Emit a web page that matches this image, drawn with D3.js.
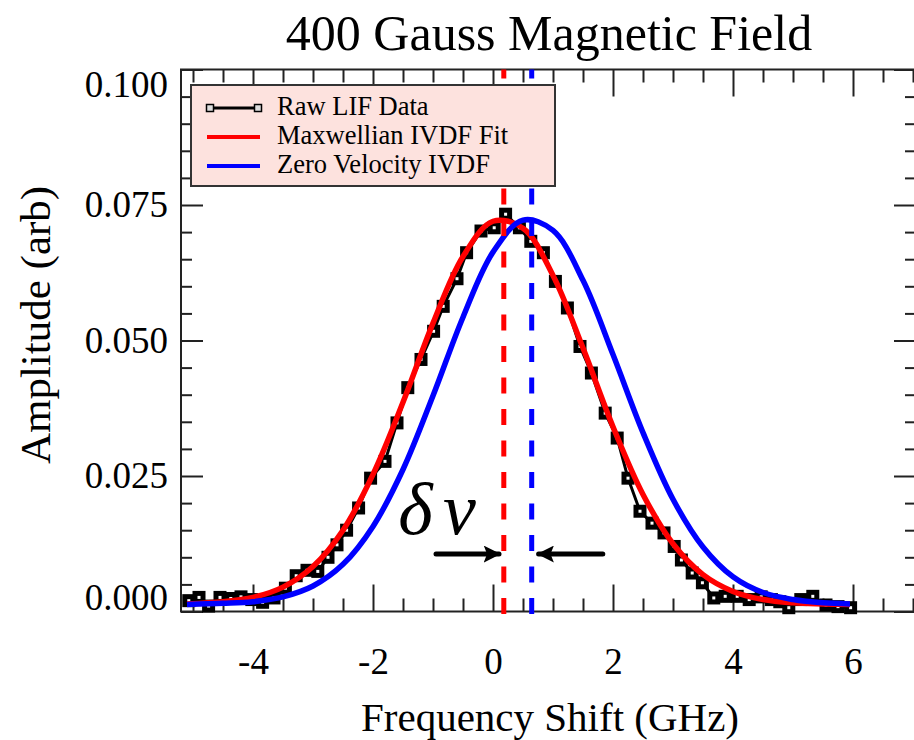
<!DOCTYPE html>
<html>
<head>
<meta charset="utf-8">
<script src="https://cdn.jsdelivr.net/npm/d3@7"></script>
<style>
  body { margin: 0; background: #fff; }
  text { font-family: "Liberation Serif", "Times New Roman", serif; fill: #000; }
</style>
</head>
<body>
<div id="chart"></div>
<script>
// raw LIF measurement (GHz, amplitude)
const rawX = [-5.07, -4.90, -4.74, -4.55, -4.37, -4.20, -4.02, -3.84, -3.65, -3.46,
  -3.28, -3.10, -2.92, -2.75, -2.60, -2.44, -2.24, -2.04, -1.80, -1.60,
  -1.42, -1.20, -0.99, -0.83, -0.60, -0.44, -0.20, 0.02, 0.21, 0.44,
  0.63, 0.84, 1.04, 1.24, 1.45, 1.64, 1.87, 2.07, 2.25, 2.45,
  2.65, 2.85, 3.02, 3.14, 3.32, 3.49, 3.68, 3.87, 4.07, 4.27,
  4.47, 4.64, 4.78, 4.93, 5.13, 5.33, 5.55, 5.75, 5.96];
const rawY = [0.0020, 0.0026, 0.0010, 0.0026, 0.0024, 0.0027, 0.0022, 0.0017, 0.0025, 0.0043,
  0.0066, 0.0076, 0.0074, 0.0100, 0.0123, 0.0150, 0.0191, 0.0246, 0.0277, 0.0348,
  0.0413, 0.0465, 0.0517, 0.0563, 0.0614, 0.0662, 0.0702, 0.0708, 0.0733, 0.0708,
  0.0683, 0.0662, 0.0609, 0.0560, 0.0489, 0.0440, 0.0366, 0.0320, 0.0246, 0.0185,
  0.0163, 0.0145, 0.0120, 0.0095, 0.0071, 0.0053, 0.0025, 0.0028, 0.0028, 0.0022,
  0.0027, 0.0022, 0.0018, 0.0007, 0.0022, 0.0028, 0.0012, 0.0009, 0.0007];

// fitted curves
const fitX = [-5.1, -4.5, -4, -3.5, -3, -2.5, -2, -1.5, -1, -0.5, 0, 0.5, 1,
  1.5, 2, 2.5, 3, 3.5, 4, 4.5, 5, 5.5, 5.95];
const maxwellY = [0.0014, 0.0018, 0.0026, 0.0045, 0.0083, 0.0150, 0.0253, 0.0386, 0.0532, 0.0655, 0.0720, 0.0707, 0.0620,
  0.0486, 0.0341, 0.0216, 0.0125, 0.0068, 0.0037, 0.0022, 0.0016, 0.0014, 0.0013];
const zeroVelY = [0.0013, 0.0015, 0.0018, 0.0027, 0.0047, 0.0087, 0.0157, 0.0262, 0.0398, 0.0543, 0.0663, 0.0722, 0.0703,
  0.0611, 0.0474, 0.0330, 0.0207, 0.0119, 0.0064, 0.0035, 0.0022, 0.0016, 0.0014];

// centre lines of the two distributions
const maxwellCenter = 0.18;
const zeroVelCenter = 0.645;

const xTicks = [-4, -2, 0, 2, 4, 6];
const xTickLabels = ["-4", "-2", "0", "2", "4", "6"];
const yTicks = [0, 0.025, 0.05, 0.075, 0.1];
const yTickLabels = ["0.000", "0.025", "0.050", "0.075", "0.100"];
const legendLabels = ["Raw LIF Data", "Maxwellian IVDF Fit", "Zero Velocity IVDF"];

let width = 914, height = 740;

const svg = d3.select("#chart")
  .append("svg")
  .attr("width", width)
  .attr("height", height);

const x = d3.scaleLinear().domain([-5.2, 7.05]).range([181, 916]);
const y = d3.scaleLinear().domain([0, 0.1]).range([611.5, 69.5]);

const xMinor = d3.range(-5, 7.01, 0.5).filter(v => v % 2 !== 0);
const yMinor = d3.range(0, 0.1001, 0.005).filter(v => Math.abs(v / 0.025 - Math.round(v / 0.025)) > 1e-6);

// ticks on all four sides, pointing inward
function tickAxis(axis) {
  return g => g.call(axis).call(s => s.select(".domain").remove())
    .call(s => s.selectAll("line").attr("stroke", "#222").attr("stroke-width", 2));
}
const noLab = () => "";

svg.append("g").attr("transform", `translate(0,${y(0)})`)
  .call(tickAxis(d3.axisBottom(x).tickValues(xMinor).tickSize(-13).tickFormat(noLab)));
svg.append("g").attr("transform", `translate(0,${y(0.1)})`)
  .call(tickAxis(d3.axisTop(x).tickValues(xMinor).tickSize(-13).tickFormat(noLab)));
svg.append("g").attr("transform", `translate(0,${y(0.1)})`)
  .call(tickAxis(d3.axisTop(x).tickValues(xTicks).tickSize(-27).tickFormat(noLab)));
const xAxis = svg.append("g").attr("transform", `translate(0,${y(0)})`)
  .call(tickAxis(d3.axisBottom(x).tickValues(xTicks).tickSize(-27).tickPadding(36)
    .tickFormat((d, i) => xTickLabels[i])));
xAxis.selectAll("text").attr("font-size", 37).attr("font-family", "Liberation Serif");

svg.append("g").attr("transform", `translate(${x.range()[0]},0)`)
  .call(tickAxis(d3.axisLeft(y).tickValues(yMinor).tickSize(-11).tickFormat(noLab)));
svg.append("g").attr("transform", `translate(${x.range()[1]},0)`)
  .call(tickAxis(d3.axisRight(y).tickValues(yMinor).tickSize(-11).tickFormat(noLab)));
svg.append("g").attr("transform", `translate(${x.range()[1]},0)`)
  .call(tickAxis(d3.axisRight(y).tickValues(yTicks).tickSize(-22).tickFormat(noLab)));
const yAxis = svg.append("g").attr("transform", `translate(${x.range()[0]},0)`)
  .call(tickAxis(d3.axisLeft(y).tickValues(yTicks).tickSize(-22).tickPadding(13)
    .tickFormat((d, i) => yTickLabels[i])));
yAxis.selectAll("text").attr("font-size", 37).attr("font-family", "Liberation Serif")
  .attr("dy", (d, i) => i === 0 ? "-0.05em" : (i === yTicks.length - 1 ? "0.72em" : "0.32em"));

// frame
svg.append("rect")
  .attr("x", x.range()[0]).attr("y", y(0.1))
  .attr("width", x.range()[1] - x.range()[0]).attr("height", y(0) - y(0.1))
  .attr("fill", "none").attr("stroke", "#222").attr("stroke-width", 2);

const plot = svg.append("g");

// raw data
const raw = rawX.map((v, i) => ({ x: v, y: rawY[i] }));
plot.append("path")
  .datum(raw)
  .attr("d", d3.line().x(d => x(d.x)).y(d => y(d.y)))
  .attr("fill", "none").attr("stroke", "#000").attr("stroke-width", 3);
plot.selectAll("rect.pt")
  .data(raw)
  .enter()
  .append("rect")
  .attr("class", "pt")
  .attr("x", d => x(d.x) - 4).attr("y", d => y(d.y) - 4)
  .attr("width", 8).attr("height", 8)
  .attr("fill", "#fff").attr("stroke", "#000").attr("stroke-width", 5);

// fits
const fitLine = d3.line().curve(d3.curveCatmullRom.alpha(0.5));
plot.append("path")
  .datum(fitX.map((v, i) => [x(v), y(maxwellY[i])]))
  .attr("d", fitLine)
  .attr("fill", "none").attr("stroke", "#ff0000").attr("stroke-width", 5.5);
plot.append("path")
  .datum(fitX.map((v, i) => [x(v), y(zeroVelY[i])]))
  .attr("d", fitLine)
  .attr("fill", "none").attr("stroke", "#0000ff").attr("stroke-width", 5.5);

// dashed centre lines
[[maxwellCenter, "#ff0000"], [zeroVelCenter, "#0000ff"]].forEach(c => {
  plot.append("line")
    .attr("x1", x(c[0])).attr("x2", x(c[0]))
    .attr("y1", y(0) + 2.5).attr("y2", y(0.1))
    .attr("stroke", c[1]).attr("stroke-width", 5)
    .attr("stroke-dasharray", "16,15.5");
});

// delta nu annotation
const arrowY = 0.0106;
svg.append("defs").append("marker")
  .attr("id", "head")
  .attr("viewBox", "0 0 10 10")
  .attr("refX", 9).attr("refY", 5)
  .attr("markerWidth", 3.4).attr("markerHeight", 3.4)
  .attr("markerUnits", "strokeWidth")
  .attr("orient", "auto")
  .append("path")
  .attr("d", "M0,0 L10,5 L0,10 L2,5 Z")
  .attr("fill", "#000");
plot.append("line")
  .attr("x1", x(-0.95)).attr("x2", x(0.1))
  .attr("y1", y(arrowY)).attr("y2", y(arrowY))
  .attr("stroke", "#000").attr("stroke-width", 5).attr("stroke-linecap", "round")
  .attr("marker-end", "url(#head)");
plot.append("line")
  .attr("x1", x(1.83)).attr("x2", x(0.76))
  .attr("y1", y(arrowY)).attr("y2", y(arrowY))
  .attr("stroke", "#000").attr("stroke-width", 5).attr("stroke-linecap", "round")
  .attr("marker-end", "url(#head)");
svg.append("text")
  .attr("x", x(-1.58)).attr("y", y(0.0143))
  .attr("font-size", 74)
  .attr("font-style", "italic")
  .attr("letter-spacing", -4)
  .text("δ ν");

// legend
const lg = svg.append("g");
lg.append("rect")
  .attr("x", 191).attr("y", 85)
  .attr("width", 364).attr("height", 101)
  .attr("fill", "#fde2de").attr("stroke", "#333").attr("stroke-width", 2);
legendLabels.forEach((lab, i) => {
  let ly = 108 + i * 29;
  if (i === 0) {
    lg.append("line").attr("x1", 210).attr("x2", 258).attr("y1", ly).attr("y2", ly)
      .attr("stroke", "#000").attr("stroke-width", 3);
    [210, 258].forEach(px => {
      lg.append("rect").attr("x", px - 3.5).attr("y", ly - 3.5).attr("width", 7).attr("height", 7)
        .attr("fill", "#ddd").attr("stroke", "#000").attr("stroke-width", 1.5);
    });
  } else {
    lg.append("line").attr("x1", 207).attr("x2", 260).attr("y1", ly).attr("y2", ly)
      .attr("stroke", i === 1 ? "#ff0000" : "#0000ff").attr("stroke-width", 4);
  }
  lg.append("text").attr("x", 277).attr("y", ly + 6.5)
    .attr("font-size", 26.5).text(lab);
});

// titles
svg.append("text")
  .attr("x", 549).attr("y", 50)
  .attr("text-anchor", "middle")
  .attr("font-size", 50)
  .text("400 Gauss Magnetic Field");
svg.append("text")
  .attr("x", 550).attr("y", 731)
  .attr("text-anchor", "middle")
  .attr("font-size", 41)
  .text("Frequency Shift (GHz)");
svg.append("text")
  .attr("transform", "translate(50,325) rotate(-90)")
  .attr("text-anchor", "middle")
  .attr("font-size", 43)
  .text("Amplitude (arb)");
</script>
</body>
</html>
